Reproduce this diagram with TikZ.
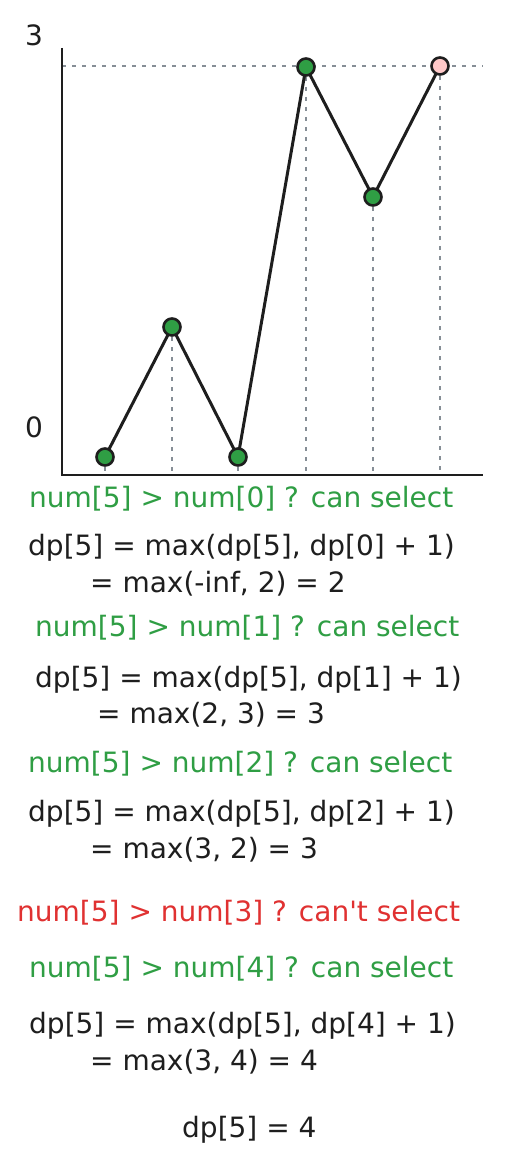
\documentclass[tikz,border=0pt]{standalone}
\usepackage{fontspec}
\newfontfamily\plainsans{DejaVu Sans}
\definecolor{ink}{HTML}{1E1E1E}
\definecolor{okgreen}{HTML}{2F9E44}
\definecolor{badred}{HTML}{E03131}
\definecolor{dotgray}{HTML}{868E96}
\definecolor{pinkfill}{HTML}{FFC9C9}
\begin{document}
\begin{tikzpicture}[x=1pt,y=-1pt,
  txt/.style={anchor=base west,inner sep=0pt,font=\plainsans\fontsize{28}{34}\selectfont},
  ok/.style={txt,text=okgreen},
  bad/.style={txt,text=badred},
  calc/.style={txt,text=ink},
  guide/.style={draw=dotgray,line width=1.6pt,dash pattern=on 4pt off 6pt},
  axis/.style={draw=ink,line width=1.8pt},
  link/.style={draw=ink,line width=3pt,line join=round},
  dot/.style={circle,draw=ink,line width=2.6pt,fill=okgreen,minimum size=17pt,inner sep=0pt},
  lastdot/.style={dot,fill=pinkfill}]
\useasboundingbox (0,0) rectangle (512,1158);
\fill[white] (0,0) rectangle (512,1158);
% axes
\coordinate (ytop) at (62,48);
\coordinate (orig) at (62,475);
\coordinate (xend) at (483,475);
\coordinate (hend) at (483,66);
\coordinate (hstart) at (62,66);
% data points
\coordinate (p0) at (105,457);
\coordinate (p1) at (172,327);
\coordinate (p2) at (238,457);
\coordinate (p3) at (306,67);
\coordinate (p4) at (373,197);
\coordinate (p5) at (440,66);
\foreach \i in {0,...,5} \coordinate (b\i) at (p\i |- orig);
% guides
\draw[guide] (hstart) -- (hend);
\foreach \i in {0,...,5} \draw[guide] (p\i) -- (b\i);
\draw[axis] (ytop) -- (orig) -- (xend);
\node[txt,anchor=center,text=ink] (l3) at (34,35) {3};
\node[txt,anchor=center,text=ink] (l0) at (34,427) {0};
\draw[link] (p0) -- (p1) -- (p2) -- (p3) -- (p4) -- (p5);
\foreach \i in {0,...,4} \node[dot] (n\i) at (p\i) {};
\node[lastdot] (n5) at (p5) {};
% text
\node[ok] (t1) at (29,507) {num[5] > num[0] ? can select};
\node[calc] (t2) at (28,555) {dp[5] = max(dp[5], dp[0] + 1)};
\node[calc] (t3) at (90,592) {= max(-inf, 2) = 2};
\node[ok] (t4) at (35,636) {num[5] > num[1] ? can select};
\node[calc] (t5) at (35,687) {dp[5] = max(dp[5], dp[1] + 1)};
\node[calc] (t6) at (97,723) {= max(2, 3) = 3};
\node[ok] (t7) at (28,772) {num[5] > num[2] ? can select};
\node[calc] (t8) at (28,821) {dp[5] = max(dp[5], dp[2] + 1)};
\node[calc] (t9) at (90,858) {= max(3, 2) = 3};
\node[bad] (t10) at (17,921) {num[5] > num[3] ? can't select};
\node[ok] (t11) at (29,977) {num[5] > num[4] ? can select};
\node[calc] (t12) at (29,1033) {dp[5] = max(dp[5], dp[4] + 1)};
\node[calc] (t13) at (90,1070) {= max(3, 4) = 4};
\node[calc] (t14) at (182,1137) {dp[5] = 4};
\end{tikzpicture}
\end{document}
